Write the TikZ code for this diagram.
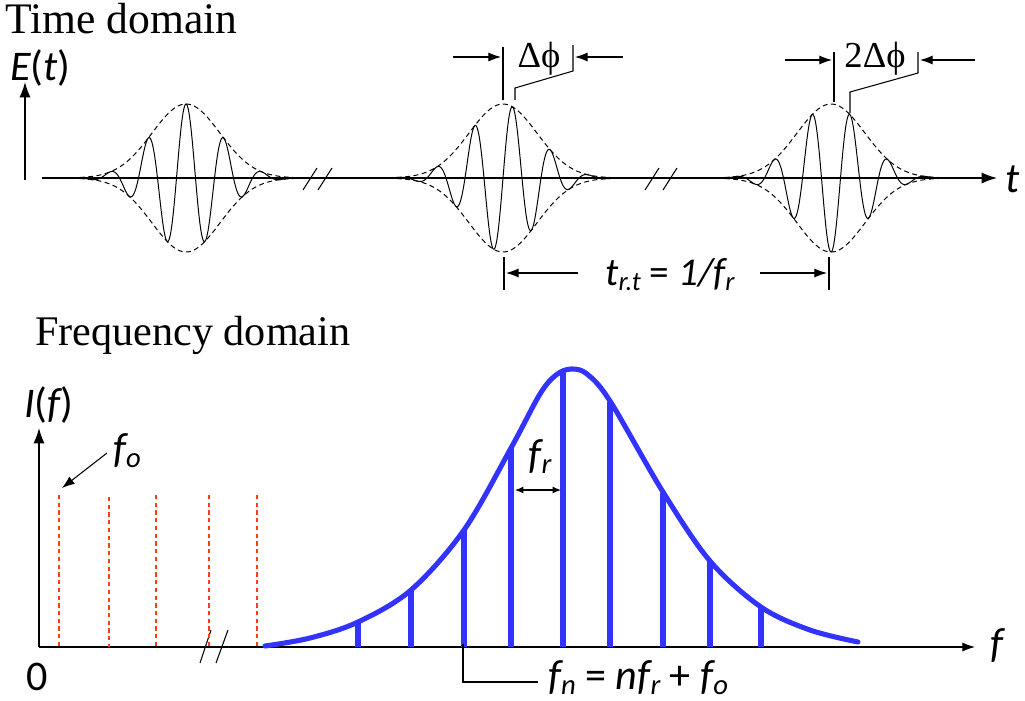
\documentclass[tikz,border=0pt]{standalone}
\usepackage{fontspec}
\setmainfont{Liberation Serif}
\newfontfamily\calibri{Carlito}
\usetikzlibrary{arrows.meta}
\newcommand\clb[1]{{\calibri\itshape #1}}
\newcommand\sbs[1]{\raisebox{-0.14em}{\scalebox{0.68}{#1}}}
\begin{document}
\begin{tikzpicture}[x=0.025cm,y=-0.025cm,
  axis/.style={line width=1pt},
  thinline/.style={line width=0.75pt},
  wave/.style={line width=0.7pt},
  env/.style={line width=0.7pt, dash pattern=on 3.5pt off 2.5pt},
  bigtip/.style={-{Latex[length=11pt,width=8pt]}},
  midtip/.style={-{Latex[length=9pt,width=6.5pt]}},
  redline/.style={line width=1pt, draw={rgb,255:red,255;green,60;blue,20}, dash pattern=on 3pt off 2.5pt},
  blueline/.style={line width=3.6pt, draw={rgb,255:red,51;green,51;blue,255}},
  ttl/.style={font=\fontsize{31}{36}\selectfont, inner sep=0pt},
  lbl/.style={font=\fontsize{30}{35}\selectfont\calibri, inner sep=0pt},
  dphi/.style={font=\fontsize{26}{30}\selectfont, inner sep=0pt}
]
\useasboundingbox (0,0) rectangle (1025,700);

% ---------------- Time domain ----------------
\node[ttl, anchor=base west] (ttime) at (5,33) {Time domain};
\node[lbl, anchor=base west] (Et) at (10,80) {\clb{E}(\clb{t})};
\coordinate (eb) at (25,180);
\coordinate (et) at (25,82);
\draw[axis, bigtip] (eb) -- (et);

\coordinate (ta0) at (42,178);
\coordinate (ta1) at (997,178);
\draw[axis, bigtip] (ta0) -- (ta1);
\node[lbl, anchor=base west] (tlab) at (1005,192) {\clb{t}};

% break marks
\draw[thinline] (303,190) -- (317,168) (318,190) -- (332,168);
\draw[thinline] (645,190) -- (659,168) (663,190) -- (677,168);

% pulse 1 (c=186)
\draw[env, domain=-140:140, samples=120] plot ({186+\x},{178-74*exp(-((\x/34)^2)/2)});
\draw[env, domain=-140:140, samples=120] plot ({186+\x},{178+74*exp(-((\x/34)^2)/2)});
\draw[wave, domain=-130:130, samples=400, smooth] plot ({186+\x},{178-74*exp(-((\x/34)^2)/2)*cos(9.47368*\x)});

% pulse 2 (c=503)
\draw[env, domain=-140:140, samples=120] plot ({503+\x},{178-74*exp(-((\x/34)^2)/2)});
\draw[env, domain=-140:140, samples=120] plot ({503+\x},{178+74*exp(-((\x/34)^2)/2)});
\draw[wave, domain=-130:130, samples=400, smooth] plot ({503+\x},{178-74*exp(-((\x/34)^2)/2)*cos(9.47368*(\x-9.5))});

% pulse 3 (c=831)
\draw[env, domain=-140:140, samples=120] plot ({831+\x},{178-74*exp(-((\x/34)^2)/2)});
\draw[env, domain=-140:140, samples=120] plot ({831+\x},{178+74*exp(-((\x/34)^2)/2)});
\draw[wave, domain=-130:130, samples=400, smooth] plot ({831+\x},{178-74*exp(-((\x/34)^2)/2)*cos(9.47368*(\x-19))});

% delta phi markers (pulse 2)
\draw[thinline] (503,47) -- (503,100);
\draw[thinline] (573,45) -- (573,71) -- (515,88) -- (515,100);
\coordinate (d1a) at (453,57); \coordinate (d1b) at (501,57);
\coordinate (d1c) at (623,57); \coordinate (d1d) at (575,57);
\draw[thinline, midtip] (d1a) -- (d1b);
\draw[thinline, midtip] (d1c) -- (d1d);
\node[dphi, anchor=base] (dphi1) at (539,67) {Δϕ};

% 2 delta phi markers (pulse 3)
\draw[thinline] (834,52) -- (834,102);
\draw[thinline] (918,52) -- (918,73) -- (850,92) -- (850,113);
\coordinate (d2a) at (785,60); \coordinate (d2b) at (832,60);
\coordinate (d2c) at (975,60); \coordinate (d2d) at (920,60);
\draw[thinline, midtip] (d2a) -- (d2b);
\draw[thinline, midtip] (d2c) -- (d2d);
\node[dphi, anchor=base] (dphi2) at (875,67) {2Δϕ};

% round trip time
\draw[thinline] (504,257) -- (504,290);
\draw[thinline] (829,257) -- (829,290);
\coordinate (r1a) at (578,273); \coordinate (r1b) at (506,273);
\coordinate (r2a) at (760,273); \coordinate (r2b) at (827,273);
\draw[thinline, midtip] (r1a) -- (r1b);
\draw[thinline, midtip] (r2a) -- (r2b);
\node[lbl, anchor=base, font=\fontsize{28}{32}\selectfont\calibri] (trt) at (670,285) {\clb{t\sbs{r.t}} = \clb{1/f\sbs{r}}};

% ---------------- Frequency domain ----------------
\node[ttl, anchor=base west, font=\fontsize{30}{35}\selectfont] (tfreq) at (35,345) {Frequency domain};
\node[lbl, anchor=base west] (If) at (24,417) {\clb{I}(\clb{f})};
\node[lbl] (zero) at (37,677) {0};

\coordinate (fo) at (39,647);
\coordinate (fy) at (39,428);
\coordinate (fx) at (975,647);
\draw[axis, bigtip] (fo) -- (fy);
\draw[line width=1.3pt] (fo) -- (207,647);
\draw[thinline, midtip] (207,647) -- (fx);
\node[lbl, anchor=center] (flab) at (997,645) {\clb{f}};
\draw[thinline] (200,663) -- (211,630) (216,663) -- (228,630);

% red comb
\foreach \xx/\yy in {59/495,109/497,156/495,209/495,257/495}
  \draw[redline] (\xx,\yy) -- (\xx,647);

% f_o label
\node[lbl, anchor=base west] (folab) at (113,462) {\clb{f\sbs{o}}};
\coordinate (foa) at (107,453); \coordinate (fob) at (62,488);
\draw[thinline, midtip] (foa) -- (fob);

% blue comb
\foreach \xx/\yy in {358/623,411/590,464/530,511/448,563/371,610/402,663/493,710/561,761/607}
  \draw[blueline] (\xx,647) -- (\xx,\yy);
\draw[blueline, line cap=round] plot[smooth, tension=0.55] coordinates {(265,646) (310,638) (358,622) (411,590) (464,530) (511,448) (540,394) (556,375) (571,369) (587,374) (610,401) (663,492) (710,561) (761,607) (810,630) (858,642)};

% f_r arrow
\coordinate (fra) at (515,490); \coordinate (frb) at (561,490);
\draw[thinline, {Latex[length=6pt,width=5pt]}-{Latex[length=6pt,width=5pt]}] (fra) -- (frb);
\node[lbl, anchor=base] (frlab) at (540,468) {\clb{f\sbs{r}}};

% f_n label
\draw[thinline] (463,644) -- (463,682) -- (538,682);
\node[lbl, anchor=base west] (fnlab) at (548,689) {\clb{f\sbs{n}} = \clb{nf\sbs{r}} + \clb{f\sbs{o}}};
\end{tikzpicture}
\end{document}
